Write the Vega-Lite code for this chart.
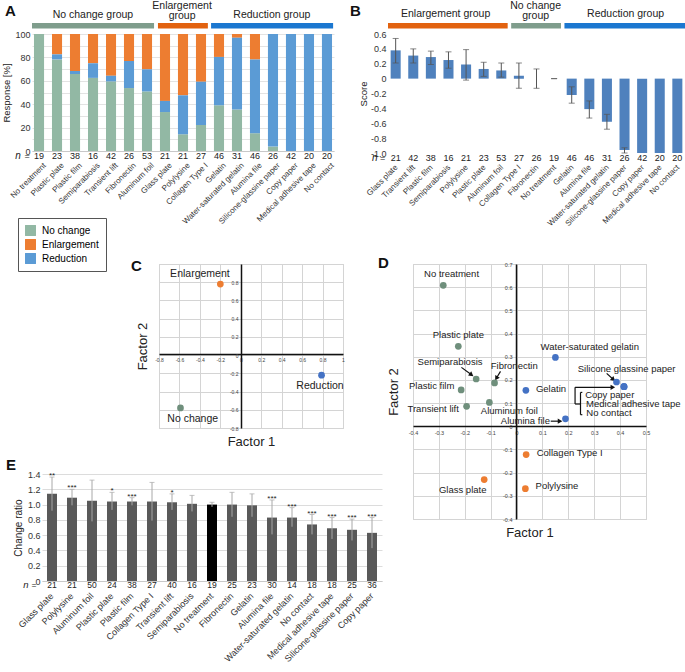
{
  "$schema": "https://vega.github.io/schema/vega-lite/v6.json",
  "autosize": {"type": "pad"},
  "padding": {"left": 1, "top": 0, "right": 0, "bottom": 0},
  "background": "white",
  "config": {
    "font": "Liberation Sans",
    "view": {"stroke": null},
    "axis": {"labelFont": "Liberation Sans", "titleFont": "Liberation Sans", "labelColor": "#333", "titleColor": "#222", "titleFontWeight": "normal", "gridColor": "#dedede", "domainColor": "#bbb", "labelOverlap": false},
    "title": {"font": "Liberation Sans", "fontSize": 15, "fontWeight": "bold", "color": "#111", "anchor": "start", "frame": "group", "offset": 0, "baseline": "bottom"},
    "text": {"font": "Liberation Sans", "color": "#222"},
    "legend": {"labelFont": "Liberation Sans"}
  },
  "bounds": "flush",
  "spacing": 263,
  "resolve": {"scale": {"color": "independent"}, "legend": {"color": "independent"}},
  "vconcat": [
    {
      "bounds": "flush",
      "spacing": 356,
      "resolve": {"scale": {"color": "independent"}, "legend": {"color": "independent"}},
      "hconcat": [
        {
          "bounds": "flush", "spacing": 3,
          "resolve": {"scale": {"color": "independent"}, "legend": {"color": "independent"}},
          "vconcat": [
            {
              "width": 302, "height": 30,
              "title": {"text": "A", "dx": -27, "dy": 22},
              "layer": [
                {
                  "data": {"values": [
                    {"grp": "No change group", "x0": 0, "x1": 6.87},
                    {"grp": "Enlargement group", "x0": 7.09, "x1": 9.9},
                    {"grp": "Reduction group", "x0": 10.08, "x1": 16.95}
                  ]},
                  "mark": {"type": "rect"},
                  "encoding": {
                    "x": {"field": "x0", "type": "quantitative", "scale": {"domain": [0, 17], "nice": false, "zero": false}, "axis": null},
                    "x2": {"field": "x1"},
                    "y": {"datum": 2.5, "type": "quantitative", "scale": {"domain": [0, 30], "nice": false}, "axis": null},
                    "y2": {"datum": 8},
                    "color": {"field": "grp", "type": "nominal", "scale": {"domain": ["No change group", "Enlargement group", "Reduction group"], "range": ["#7f9d8c", "#e2620f", "#1b77d0"]}, "legend": null}
                  }
                },
                {
                  "data": {"values": [
                    {"t": "No change group", "xm": 3.43, "yl": 16},
                    {"t": "Enlargement", "xm": 8.45, "yl": 25},
                    {"t": "group", "xm": 8.45, "yl": 15.5},
                    {"t": "Reduction group", "xm": 13.5, "yl": 16}
                  ]},
                  "mark": {"type": "text", "fontSize": 10.5, "baseline": "middle"},
                  "encoding": {
                    "x": {"field": "xm", "type": "quantitative"},
                    "y": {"field": "yl", "type": "quantitative"},
                    "text": {"field": "t"}
                  }
                }
              ]
            },
            {
              "width": 302, "height": 117,
              "data": {"values": [
                {"m": "No treatment", "n": 19, "No change": 100, "Enlargement": 0, "Reduction": 0},
                {"m": "Plastic plate", "n": 23, "No change": 78.3, "Enlargement": 17.4, "Reduction": 4.3},
                {"m": "Plastic film", "n": 38, "No change": 65.8, "Enlargement": 31.6, "Reduction": 2.6},
                {"m": "Semiparabiosis", "n": 16, "No change": 62.5, "Enlargement": 25, "Reduction": 12.5},
                {"m": "Transient lift", "n": 42, "No change": 59.5, "Enlargement": 35.7, "Reduction": 4.8},
                {"m": "Fibronectin", "n": 26, "No change": 53.8, "Enlargement": 23.1, "Reduction": 23.1},
                {"m": "Aluminum foil", "n": 53, "No change": 50.9, "Enlargement": 30.2, "Reduction": 18.9},
                {"m": "Glass plate", "n": 21, "No change": 33.3, "Enlargement": 57.2, "Reduction": 9.5},
                {"m": "Polylysine", "n": 21, "No change": 14.3, "Enlargement": 52.4, "Reduction": 33.3},
                {"m": "Collagen Type I", "n": 27, "No change": 22.2, "Enlargement": 40.8, "Reduction": 37},
                {"m": "Gelatin", "n": 46, "No change": 39.1, "Enlargement": 19.6, "Reduction": 41.3},
                {"m": "Water-saturated gelatin", "n": 31, "No change": 35.5, "Enlargement": 3.2, "Reduction": 61.3},
                {"m": "Alumina file", "n": 46, "No change": 15.2, "Enlargement": 21.8, "Reduction": 63},
                {"m": "Silicone-glassine paper", "n": 26, "No change": 3.8, "Enlargement": 0, "Reduction": 96.2},
                {"m": "Copy paper", "n": 42, "No change": 0, "Enlargement": 0, "Reduction": 100},
                {"m": "Medical adhesive tape", "n": 20, "No change": 0, "Enlargement": 0, "Reduction": 100},
                {"m": "No contact", "n": 20, "No change": 0, "Enlargement": 0, "Reduction": 100}
              ]},
              "layer": [
                {
                  "transform": [
                    {"fold": ["No change", "Enlargement", "Reduction"], "as": ["resp", "pct"]},
                    {"calculate": "indexof(['No change','Reduction','Enlargement'], datum.resp)", "as": "k"}
                  ],
                  "mark": {"type": "bar"},
                  "encoding": {
                    "x": {"field": "m", "type": "nominal", "sort": null, "scale": {"paddingInner": 0.44, "paddingOuter": 0.11},
                          "axis": {"title": null, "labelAngle": -45, "labelAlign": "right", "labelBaseline": "middle", "labelPadding": 13, "labelOffset": 6, "labelFontSize": 8, "ticks": false, "domain": true, "domainColor": "#c8c8c8", "labelOverlap": false}},
                    "y": {"field": "pct", "type": "quantitative", "stack": "zero", "scale": {"domain": [0, 100], "nice": false},
                          "axis": {"title": "Response [%]", "values": [0, 10, 20, 30, 40, 50, 60, 70, 80, 90, 100], "tickCount": 40, "labelExpr": "datum.value % 20 == 0 ? datum.label : ''", "labelOverlap": false, "ticks": false, "domain": false, "labelFontSize": 9, "titleFontSize": 9.5, "titlePadding": 3, "gridColor": "#e3e3e3"}},
                    "color": {"field": "resp", "type": "nominal", "scale": {"domain": ["No change", "Enlargement", "Reduction"], "range": ["#92b8a4", "#ed7d31", "#5b9bd5"]},
                              "legend": {"title": null, "orient": "none", "legendX": -14, "legendY": 184, "symbolType": "square", "symbolSize": 120, "labelFontSize": 10, "strokeColor": "#555", "fillColor": "white", "padding": 7, "rowPadding": 3, "labelOffset": 6, "symbolStrokeWidth": 0}},
                    "order": {"field": "k", "type": "quantitative"}
                  }
                },
                {
                  "mark": {"type": "text", "fontSize": 9, "baseline": "middle"},
                  "encoding": {
                    "x": {"field": "m", "type": "nominal", "sort": null},
                    "y": {"datum": -4.3, "type": "quantitative"},
                    "text": {"field": "n"}
                  }
                },
                {
                  "transform": [{"filter": "datum.m == 'No treatment'"}],
                  "mark": {"type": "text", "fontSize": 10, "fontStyle": "italic", "baseline": "middle", "text": "n", "dx": -21},
                  "encoding": {"x": {"field": "m", "type": "nominal", "sort": null}, "y": {"datum": -4.3, "type": "quantitative"}}
                },
                {
                  "transform": [{"filter": "datum.m == 'No treatment'"}],
                  "mark": {"type": "text", "fontSize": 9, "baseline": "middle", "text": "=", "dx": -12},
                  "encoding": {"x": {"field": "m", "type": "nominal", "sort": null}, "y": {"datum": -4.3, "type": "quantitative"}}
                }
              ]
            }
          ]
        },
        {
          "bounds": "flush", "spacing": 3,
          "resolve": {"scale": {"color": "independent"}, "legend": {"color": "independent"}},
          "vconcat": [
            {
              "width": 297, "height": 30,
              "title": {"text": "B", "dx": -38, "dy": 22},
              "layer": [
                {
                  "data": {"values": [
                    {"grp": "Enlargement group", "x0": 0, "x1": 6.85},
                    {"grp": "No change group", "x0": 7.05, "x1": 9.9},
                    {"grp": "Reduction group", "x0": 10.1, "x1": 17}
                  ]},
                  "mark": {"type": "rect"},
                  "encoding": {
                    "x": {"field": "x0", "type": "quantitative", "scale": {"domain": [0, 17], "nice": false, "zero": false}, "axis": null},
                    "x2": {"field": "x1"},
                    "y": {"datum": 2.5, "type": "quantitative", "scale": {"domain": [0, 30], "nice": false}, "axis": null},
                    "y2": {"datum": 8},
                    "color": {"field": "grp", "type": "nominal", "scale": {"domain": ["No change group", "Enlargement group", "Reduction group"], "range": ["#7f9d8c", "#e2620f", "#1b77d0"]}, "legend": null}
                  }
                },
                {
                  "data": {"values": [
                    {"t": "Enlargement group", "xm": 3.3, "yl": 17},
                    {"t": "No change", "xm": 8.45, "yl": 25},
                    {"t": "group", "xm": 8.45, "yl": 15.5},
                    {"t": "Reduction group", "xm": 13.6, "yl": 17}
                  ]},
                  "mark": {"type": "text", "fontSize": 10.5, "baseline": "middle"},
                  "encoding": {
                    "x": {"field": "xm", "type": "quantitative"},
                    "y": {"field": "yl", "type": "quantitative"},
                    "text": {"field": "t"}
                  }
                }
              ]
            },
            {
              "width": 297, "height": 119,
              "data": {"values": [
                {"m": "Glass plate", "n": 21, "s": 0.38, "lo": 0.21, "hi": 0.54},
                {"m": "Transient lift", "n": 42, "s": 0.31, "lo": 0.21, "hi": 0.40},
                {"m": "Plastic film", "n": 38, "s": 0.29, "lo": 0.19, "hi": 0.37},
                {"m": "Semiparabiosis", "n": 16, "s": 0.25, "lo": 0.14, "hi": 0.36},
                {"m": "Polylysine", "n": 21, "s": 0.19, "lo": -0.02, "hi": 0.39},
                {"m": "Plastic plate", "n": 23, "s": 0.13, "lo": 0.03, "hi": 0.22},
                {"m": "Aluminum foil", "n": 53, "s": 0.11, "lo": 0.02, "hi": 0.21},
                {"m": "Collagen Type I", "n": 27, "s": 0.04, "lo": -0.13, "hi": 0.21},
                {"m": "Fibronectin", "n": 26, "s": 0, "lo": -0.13, "hi": 0.13},
                {"m": "No treatment", "n": 19, "s": 0, "lo": 0, "hi": 0},
                {"m": "Gelatin", "n": 46, "s": -0.22, "lo": -0.33, "hi": -0.11},
                {"m": "Alumina file", "n": 46, "s": -0.41, "lo": -0.53, "hi": -0.30},
                {"m": "Water-saturated gelatin", "n": 31, "s": -0.58, "lo": -0.68, "hi": -0.48},
                {"m": "Silicone-glassine paper", "n": 26, "s": -0.96, "lo": -1.0, "hi": -0.93},
                {"m": "Copy paper", "n": 42, "s": -1, "lo": null, "hi": null},
                {"m": "Medical adhesive tape", "n": 20, "s": -1, "lo": null, "hi": null},
                {"m": "No contact", "n": 20, "s": -1, "lo": null, "hi": null}
              ]},
              "layer": [
                {
                  "mark": {"type": "bar", "color": "#4f81bd"},
                  "encoding": {
                    "x": {"field": "m", "type": "nominal", "sort": null, "scale": {"paddingInner": 0.43, "paddingOuter": 0.15},
                          "axis": {"title": null, "labelAngle": -45, "labelAlign": "right", "labelBaseline": "middle", "labelPadding": 13, "labelOffset": 1, "labelFontSize": 8, "ticks": false, "domain": false, "labelOverlap": false}},
                    "y": {"field": "s", "type": "quantitative", "scale": {"domain": [-1, 0.6], "nice": false, "zero": false},
                          "axis": {"title": "Score", "values": [-1, -0.8, -0.6, -0.4, -0.2, 0, 0.2, 0.4, 0.6], "tickCount": 40, "labelExpr": "datum.value == 0 ? '0' : replace(format(datum.value, '.1f'), '−', '-')", "labelOverlap": false, "grid": false, "ticks": false, "domain": false, "labelFontSize": 9, "titleFontSize": 9.5, "titlePadding": 2}}
                  }
                },
                {
                  "mark": {"type": "rule", "color": "#555"},
                  "encoding": {"x": {"field": "m", "type": "nominal", "sort": null}, "y": {"field": "lo", "type": "quantitative"}, "y2": {"field": "hi"}}
                },
                {
                  "mark": {"type": "tick", "color": "#555", "size": 6, "thickness": 1},
                  "encoding": {"x": {"field": "m", "type": "nominal", "sort": null}, "y": {"field": "lo", "type": "quantitative"}}
                },
                {
                  "mark": {"type": "tick", "color": "#555", "size": 6, "thickness": 1},
                  "encoding": {"x": {"field": "m", "type": "nominal", "sort": null}, "y": {"field": "hi", "type": "quantitative"}}
                },
                {
                  "mark": {"type": "text", "fontSize": 9, "baseline": "middle"},
                  "encoding": {"x": {"field": "m", "type": "nominal", "sort": null}, "y": {"datum": -1.067, "type": "quantitative"}, "text": {"field": "n"}}
                },
                {
                  "transform": [{"filter": "datum.m == 'Glass plate'"}],
                  "mark": {"type": "text", "fontSize": 10, "fontStyle": "italic", "baseline": "middle", "text": "n", "dx": -21},
                  "encoding": {"x": {"field": "m", "type": "nominal", "sort": null}, "y": {"datum": -1.067, "type": "quantitative"}}
                },
                {
                  "transform": [{"filter": "datum.m == 'Glass plate'"}],
                  "mark": {"type": "text", "fontSize": 9, "baseline": "middle", "text": "=", "dx": -13},
                  "encoding": {"x": {"field": "m", "type": "nominal", "sort": null}, "y": {"datum": -1.067, "type": "quantitative"}}
                }
              ]
            }
          ]
        }
      ]
    },
    {
      "bounds": "flush",
      "spacing": 381,
      "resolve": {"scale": {"color": "independent"}, "legend": {"color": "independent"}},
      "hconcat": [
        {
          "bounds": "flush",
          "spacing": 210,
          "resolve": {"scale": {"color": "independent"}, "legend": {"color": "independent"}},
          "vconcat": [
            {
              "bounds": "flush", "spacing": 17,
              "resolve": {"scale": {"color": "independent"}, "legend": {"color": "independent"}},
              "hconcat": [
                {"width": 110, "height": 10, "data": {"values": [{}]}, "mark": {"type": "text"}, "encoding": {}},
                {
                  "width": 184, "height": 164,
                  "view": {"stroke": "#c6c6c6"},
                  "title": {"text": "C", "dx": -28, "dy": 14},
                  "data": {"values": [
                    {"grp": "Enlargement", "f1": -0.2, "f2": 0.78, "lx": -0.4, "ly": 0.89},
                    {"grp": "Reduction", "f1": 0.79, "f2": -0.22, "lx": 0.775, "ly": -0.344},
                    {"grp": "No change", "f1": -0.59, "f2": -0.58, "lx": -0.47, "ly": -0.70}
                  ]},
                  "resolve": {"axis": {"x": "independent", "y": "independent"}},
                  "layer": [
                    {
                      "mark": {"type": "text", "fontSize": 10.5, "baseline": "middle"},
                      "encoding": {
                        "x": {"field": "lx", "type": "quantitative", "scale": {"domain": [-0.8, 1], "nice": false, "zero": false},
                              "axis": {"orient": "bottom", "values": [-0.8, -0.6, -0.4, -0.2, 0, 0.2, 0.4, 0.6, 0.8, 1], "tickCount": 40, "grid": true, "labels": false, "ticks": false, "domain": false, "title": "Factor 1", "titleFontSize": 13, "titlePadding": 7, "gridColor": "#d4d4d4"}},
                        "y": {"field": "ly", "type": "quantitative", "scale": {"domain": [-0.8, 1], "nice": false, "zero": false},
                              "axis": {"orient": "left", "values": [-0.8, -0.6, -0.4, -0.2, 0, 0.2, 0.4, 0.6, 0.8, 1], "tickCount": 40, "grid": true, "labels": false, "ticks": false, "domain": false, "title": "Factor 2", "titleFontSize": 13, "titlePadding": 10, "gridColor": "#d4d4d4"}},
                        "text": {"field": "grp"}
                      }
                    },
                    {
                      "mark": {"type": "point", "filled": true, "size": 45, "opacity": 1},
                      "encoding": {
                        "x": {"field": "f1", "type": "quantitative", "scale": {"domain": [-0.8, 1], "nice": false, "zero": false},
                              "axis": {"orient": "bottom", "offset": -74, "values": [-0.8, -0.6, -0.4, -0.2, 0, 0.2, 0.4, 0.6, 0.8, 1], "tickCount": 40, "labelExpr": "datum.value == 0 ? '0' : datum.value == 1 ? '1' : replace(format(datum.value, '.1f'), '−', '-')", "grid": false, "ticks": false, "domain": true, "domainColor": "#111", "domainWidth": 1.5, "labelFontSize": 5, "labelPadding": 3, "labelFlush": false, "title": null, "labelColor": "#444"}},
                        "y": {"field": "f2", "type": "quantitative", "scale": {"domain": [-0.8, 1], "nice": false, "zero": false},
                              "axis": {"orient": "left", "offset": -82, "values": [-0.8, -0.6, -0.4, -0.2, 0, 0.2, 0.4, 0.6, 0.8], "tickCount": 40, "labelExpr": "datum.value == 0 ? '0' : replace(format(datum.value, '.1f'), '−', '-')", "grid": false, "ticks": false, "domain": true, "domainColor": "#111", "domainWidth": 1.5, "labelFontSize": 5, "labelPadding": 3, "labelFlush": false, "title": null, "labelColor": "#444"}},
                        "color": {"field": "grp", "type": "nominal", "scale": {"domain": ["No change", "Enlargement", "Reduction"], "range": ["#6f8f7c", "#ed7d31", "#4472c4"]}, "legend": null}
                      }
                    }
                  ]
                }
              ]
            },
            {
              "bounds": "flush", "spacing": 9,
              "hconcat": [
                {"width": 1, "height": 10, "data": {"values": [{}]}, "mark": {"type": "text"}, "encoding": {}},
                {
                  "width": 340, "height": 107,
                  "title": {"text": "E", "dx": -36, "dy": 7},
                  "data": {"values": [
                    {"m": "Glass plate", "n": 21, "v": 1.14, "lo": 0.92, "hi": 1.36, "sig": "**"},
                    {"m": "Polylysine", "n": 21, "v": 1.09, "lo": 0.99, "hi": 1.20, "sig": "***"},
                    {"m": "Aluminum foil", "n": 50, "v": 1.05, "lo": 0.78, "hi": 1.32, "sig": ""},
                    {"m": "Plastic plate", "n": 24, "v": 1.04, "lo": 0.93, "hi": 1.16, "sig": "*"},
                    {"m": "Plastic film", "n": 38, "v": 1.04, "lo": 0.99, "hi": 1.09, "sig": "***"},
                    {"m": "Collagen Type I", "n": 27, "v": 1.04, "lo": 0.79, "hi": 1.29, "sig": ""},
                    {"m": "Transient lift", "n": 40, "v": 1.03, "lo": 0.93, "hi": 1.14, "sig": "*"},
                    {"m": "Semiparabiosis", "n": 16, "v": 1.01, "lo": 0.91, "hi": 1.12, "sig": ""},
                    {"m": "No treatment", "n": 19, "v": 1.00, "lo": 0.97, "hi": 1.03, "sig": ""},
                    {"m": "Fibronectin", "n": 25, "v": 1.00, "lo": 0.84, "hi": 1.16, "sig": ""},
                    {"m": "Gelatin", "n": 23, "v": 0.99, "lo": 0.84, "hi": 1.14, "sig": ""},
                    {"m": "Alumina file", "n": 30, "v": 0.83, "lo": 0.61, "hi": 1.06, "sig": "***"},
                    {"m": "Water-saturated gelatin", "n": 14, "v": 0.83, "lo": 0.71, "hi": 0.96, "sig": "***"},
                    {"m": "No contact", "n": 18, "v": 0.74, "lo": 0.61, "hi": 0.87, "sig": "***"},
                    {"m": "Medical adhesive tape", "n": 18, "v": 0.69, "lo": 0.55, "hi": 0.83, "sig": "***"},
                    {"m": "Silicone-glassine paper", "n": 25, "v": 0.67, "lo": 0.53, "hi": 0.81, "sig": "***"},
                    {"m": "Copy paper", "n": 36, "v": 0.63, "lo": 0.43, "hi": 0.83, "sig": "***"}
                  ]},
                  "layer": [
                    {
                      "mark": {"type": "bar"},
                      "encoding": {
                        "x": {"field": "m", "type": "nominal", "sort": null, "scale": {"paddingInner": 0.5, "paddingOuter": 0.25},
                              "axis": {"title": null, "labelAngle": -45, "labelAlign": "right", "labelBaseline": "middle", "labelPadding": 13, "labelFontSize": 9, "ticks": false, "domain": true, "domainColor": "#c8c8c8", "labelOverlap": false}},
                        "y": {"field": "v", "type": "quantitative", "scale": {"domain": [0, 1.4], "nice": false},
                              "axis": {"title": "Change ratio", "values": [0, 0.2, 0.4, 0.6, 0.8, 1, 1.2, 1.4], "tickCount": 40, "labelExpr": "datum.value == 0 ? '0' : format(datum.value, '.1f')", "labelOverlap": false, "ticks": false, "domain": false, "labelFontSize": 9, "titleFontSize": 10, "titlePadding": 4, "gridColor": "#dcdcdc"}},
                        "color": {"condition": {"test": "datum.m === 'No treatment'", "value": "#000000"}, "value": "#595959"}
                      }
                    },
                    {
                      "mark": {"type": "rule", "color": "#a8a8a8"},
                      "encoding": {"x": {"field": "m", "type": "nominal", "sort": null}, "y": {"field": "lo", "type": "quantitative"}, "y2": {"field": "hi"}}
                    },
                    {
                      "mark": {"type": "tick", "color": "#a8a8a8", "size": 5, "thickness": 1},
                      "encoding": {"x": {"field": "m", "type": "nominal", "sort": null}, "y": {"field": "hi", "type": "quantitative"}}
                    },
                    {
                      "mark": {"type": "text", "fontSize": 8, "baseline": "alphabetic", "dy": 1},
                      "encoding": {"x": {"field": "m", "type": "nominal", "sort": null}, "y": {"field": "hi", "type": "quantitative"}, "text": {"field": "sig"}}
                    },
                    {
                      "mark": {"type": "text", "fontSize": 8.5, "baseline": "middle"},
                      "encoding": {"x": {"field": "m", "type": "nominal", "sort": null}, "y": {"datum": -0.05, "type": "quantitative"}, "text": {"field": "n"}}
                    },
                    {
                      "transform": [{"filter": "datum.m == 'Glass plate'"}],
                      "mark": {"type": "text", "fontSize": 9.5, "fontStyle": "italic", "baseline": "middle", "text": "n", "dx": -26},
                      "encoding": {"x": {"field": "m", "type": "nominal", "sort": null}, "y": {"datum": -0.05, "type": "quantitative"}}
                    },
                    {
                      "transform": [{"filter": "datum.m == 'Glass plate'"}],
                      "mark": {"type": "text", "fontSize": 8.5, "baseline": "middle", "text": "=", "dx": -18},
                      "encoding": {"x": {"field": "m", "type": "nominal", "sort": null}, "y": {"datum": -0.05, "type": "quantitative"}}
                    }
                  ]
                }
              ]
            }
          ]
        },
        {
          "width": 233, "height": 255,
          "view": {"stroke": "#c6c6c6"},
          "title": {"text": "D", "dx": -35, "dy": 13},
          "resolve": {"axis": {"x": "independent", "y": "independent"}},
          "layer": [
            {
              "data": {"name": "dpts", "values": [
                {"name": "No treatment", "grp": "No change", "f1": -0.283, "f2": 0.608, "lx": -0.251, "ly": 0.655},
                {"name": "Plastic plate", "grp": "No change", "f1": -0.225, "f2": 0.345, "lx": -0.225, "ly": 0.392},
                {"name": "Semiparabiosis", "grp": "No change", "f1": -0.156, "f2": 0.204, "lx": -0.257, "ly": 0.277},
                {"name": "Fibronectin", "grp": "No change", "f1": -0.085, "f2": 0.187, "lx": -0.009, "ly": 0.259},
                {"name": "Plastic film", "grp": "No change", "f1": -0.214, "f2": 0.157, "lx": -0.328, "ly": 0.175},
                {"name": "Transient lift", "grp": "No change", "f1": -0.193, "f2": 0.086, "lx": -0.322, "ly": 0.075},
                {"name": "Aluminum foil", "grp": "No change", "f1": -0.105, "f2": 0.103, "lx": -0.028, "ly": 0.068},
                {"name": "Gelatin", "grp": "Reduction", "f1": 0.036, "f2": 0.155, "lx": 0.133, "ly": 0.161},
                {"name": "Water-saturated gelatin", "grp": "Reduction", "f1": 0.15, "f2": 0.297, "lx": 0.283, "ly": 0.342},
                {"name": "Silicone glassine paper", "grp": "Reduction", "f1": 0.386, "f2": 0.191, "lx": 0.425, "ly": 0.249},
                {"name": "Copy paper", "grp": "Reduction", "f1": 0.415, "f2": 0.171, "lx": 0.36, "ly": 0.136},
                {"name": "Medical adhesive tape", "grp": "Reduction", "f1": 0.415, "f2": 0.171, "lx": 0.451, "ly": 0.096},
                {"name": "No contact", "grp": "Reduction", "f1": 0.415, "f2": 0.171, "lx": 0.357, "ly": 0.059},
                {"name": "Alumina file", "grp": "Reduction", "f1": 0.189, "f2": 0.032, "lx": 0.034, "ly": 0.022},
                {"name": "Collagen Type I", "grp": "Enlargement", "f1": 0.037, "f2": -0.122, "lx": 0.205, "ly": -0.115},
                {"name": "Polylysine", "grp": "Enlargement", "f1": 0.034, "f2": -0.269, "lx": 0.156, "ly": -0.259},
                {"name": "Glass plate", "grp": "Enlargement", "f1": -0.125, "f2": -0.23, "lx": -0.208, "ly": -0.273}
              ]},
              "mark": {"type": "text", "fontSize": 9.5, "baseline": "middle"},
              "encoding": {
                "x": {"field": "lx", "type": "quantitative", "scale": {"domain": [-0.4, 0.5], "nice": false, "zero": false},
                      "axis": {"orient": "bottom", "values": [-0.4, -0.3, -0.2, -0.1, 0, 0.1, 0.2, 0.3, 0.4, 0.5], "tickCount": 40, "grid": true, "labels": false, "ticks": false, "domain": false, "title": "Factor 1", "titleFontSize": 13, "titlePadding": 7, "gridColor": "#d4d4d4"}},
                "y": {"field": "ly", "type": "quantitative", "scale": {"domain": [-0.4, 0.7], "nice": false, "zero": false},
                      "axis": {"orient": "left", "values": [-0.4, -0.3, -0.2, -0.1, 0, 0.1, 0.2, 0.3, 0.4, 0.5, 0.6, 0.7], "tickCount": 40, "grid": true, "labels": false, "ticks": false, "domain": false, "title": "Factor 2", "titleFontSize": 13, "titlePadding": 13, "gridColor": "#d4d4d4"}},
                "text": {"field": "name"}
              }
            },
            {
              "data": {"values": [
                {"x1": -0.213, "y1": 0.254, "x2": -0.174, "y2": 0.222},
                {"x1": -0.062, "y1": 0.237, "x2": -0.078, "y2": 0.207},
                {"x1": 0.132, "y1": 0.022, "x2": 0.168, "y2": 0.022},
                {"x1": 0.348, "y1": 0.228, "x2": 0.374, "y2": 0.202},
                {"x1": 0.226, "y1": 0.168, "x2": 0.372, "y2": 0.168},
                {"x1": 0.226, "y1": 0.168, "x2": 0.226, "y2": 0.096},
                {"x1": 0.226, "y1": 0.096, "x2": 0.247, "y2": 0.096},
                {"x1": 0.247, "y1": 0.146, "x2": 0.247, "y2": 0.05},
                {"x1": 0.247, "y1": 0.146, "x2": 0.254, "y2": 0.146},
                {"x1": 0.247, "y1": 0.05, "x2": 0.254, "y2": 0.05}
              ]},
              "mark": {"type": "rule", "color": "#111", "strokeWidth": 1.2},
              "encoding": {
                "x": {"field": "x1", "type": "quantitative", "scale": {"domain": [-0.4, 0.5], "nice": false, "zero": false}, "axis": null},
                "y": {"field": "y1", "type": "quantitative", "scale": {"domain": [-0.4, 0.7], "nice": false, "zero": false}, "axis": null},
                "x2": {"field": "x2"},
                "y2": {"field": "y2"}
              }
            },
            {
              "data": {"values": [
                {"x1": -0.213, "y1": 0.254, "x2": -0.174, "y2": 0.222},
                {"x1": -0.062, "y1": 0.237, "x2": -0.078, "y2": 0.207},
                {"x1": 0.132, "y1": 0.022, "x2": 0.168, "y2": 0.022},
                {"x1": 0.348, "y1": 0.228, "x2": 0.374, "y2": 0.202},
                {"x1": 0.226, "y1": 0.168, "x2": 0.372, "y2": 0.168}
              ]},
              "transform": [{"calculate": "(atan2((datum.x2 - datum.x1) * 258.9, (datum.y2 - datum.y1) * 231.8) * 180 / PI + 360) % 360", "as": "ang"}],
              "mark": {"type": "point", "shape": "triangle-up", "filled": true, "size": 28, "color": "#111", "opacity": 1},
              "encoding": {
                "x": {"field": "x2", "type": "quantitative", "scale": {"domain": [-0.4, 0.5], "nice": false, "zero": false}, "axis": null},
                "y": {"field": "y2", "type": "quantitative", "scale": {"domain": [-0.4, 0.7], "nice": false, "zero": false}, "axis": null},
                "angle": {"field": "ang", "type": "quantitative", "scale": {"domain": [0, 360], "range": [0, 360]}}
              }
            },
            {
              "data": {"name": "dpts"},
              "mark": {"type": "point", "filled": true, "size": 45, "opacity": 1},
              "encoding": {
                "x": {"field": "f1", "type": "quantitative", "scale": {"domain": [-0.4, 0.5], "nice": false, "zero": false},
                      "axis": {"orient": "bottom", "offset": -93, "values": [-0.4, -0.3, -0.2, -0.1, 0, 0.1, 0.2, 0.3, 0.4, 0.5], "tickCount": 40, "labelExpr": "datum.value == 0 ? '0' : replace(format(datum.value, '.1f'), '−', '-')", "grid": false, "ticks": false, "domain": true, "domainColor": "#111", "domainWidth": 1.5, "labelFontSize": 5.5, "labelPadding": 4, "labelFlush": false, "title": null, "labelColor": "#444"}},
                "y": {"field": "f2", "type": "quantitative", "scale": {"domain": [-0.4, 0.7], "nice": false, "zero": false},
                      "axis": {"orient": "left", "offset": -103, "values": [-0.4, -0.3, -0.2, -0.1, 0, 0.1, 0.2, 0.3, 0.4, 0.5, 0.6, 0.7], "tickCount": 40, "labelExpr": "datum.value == 0 ? '0' : replace(format(datum.value, '.1f'), '−', '-')", "grid": false, "ticks": false, "domain": true, "domainColor": "#111", "domainWidth": 1.5, "labelFontSize": 5.5, "labelPadding": 4, "labelFlush": false, "title": null, "labelColor": "#444"}},
                "color": {"field": "grp", "type": "nominal", "scale": {"domain": ["No change", "Enlargement", "Reduction"], "range": ["#6f8f7c", "#ed7d31", "#4472c4"]}, "legend": null}
              }
            }
          ]
        }
      ]
    }
  ]
}
